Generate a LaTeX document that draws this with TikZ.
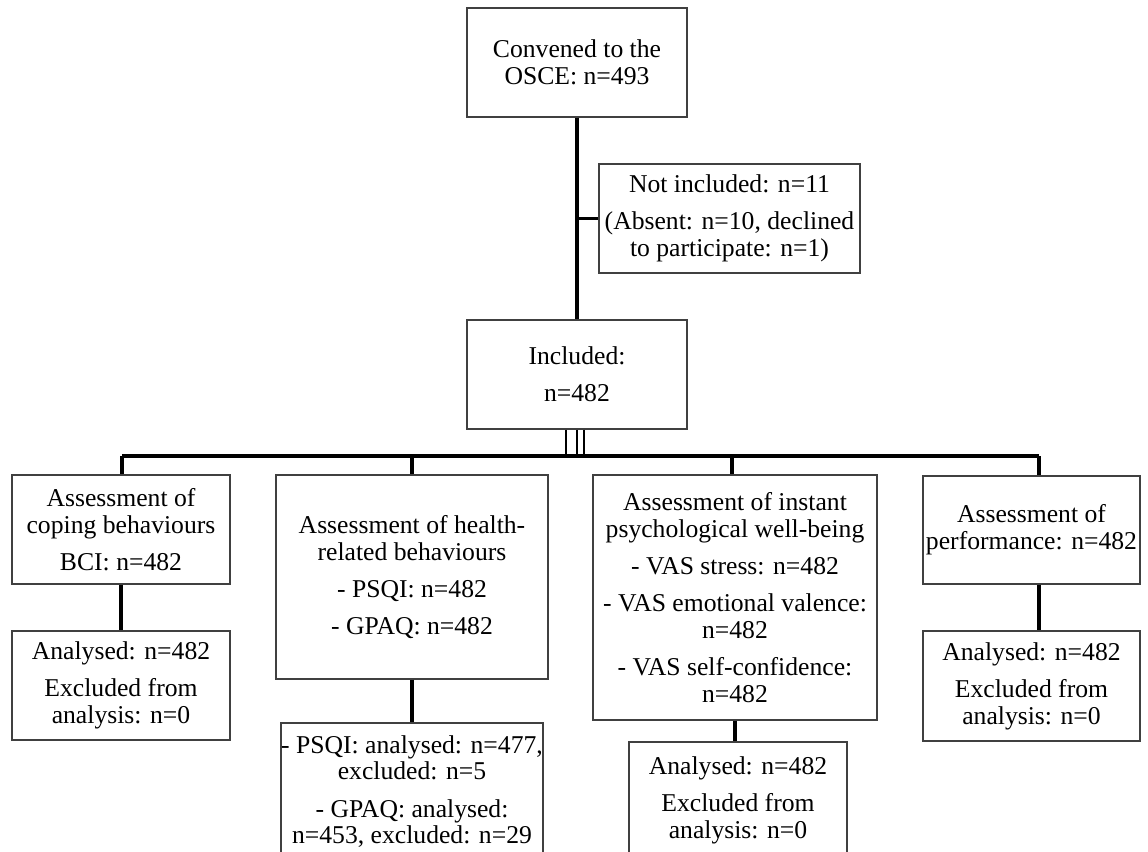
\documentclass[tikz,border=0pt]{standalone}
\usepackage{fontspec}
\setmainfont{Liberation Serif}
\usetikzlibrary{calc}
\begin{document}
\begin{tikzpicture}[x=0.02cm,y=-0.02cm,
  box/.style={draw=black!75, line width=0.7pt, align=center, inner sep=0pt,
    font=\fontsize{14.6}{15.2}\selectfont},
  link/.style={line width=1.9pt},
  tri/.style={line width=1.4pt}]
\useasboundingbox (0,0) rectangle (1148,851);
\clip (0,0) rectangle (1148,851);
\node[box, minimum width=4.4cm, minimum height=2.18cm] (top) at (577,62.5)
  {Convened to the\\OSCE: n=493};
\node[box, minimum width=5.22cm, minimum height=2.18cm] (notinc) at (729.5,218.5)
  {Not included: n=11\\[6pt](Absent: n=10, declined\\to participate: n=1)};
\node[box, minimum width=4.4cm, minimum height=2.18cm] (inc) at (577,374.5)
  {Included:\\[6pt]n=482};
\node[box, minimum width=4.36cm, minimum height=2.18cm] (b1) at (121,529.5)
  {Assessment of\\coping behaviours\\[6pt]BCI: n=482};
\node[box, minimum width=4.36cm, minimum height=2.18cm] (b1b) at (121,685.5)
  {Analysed: n=482\\[6pt]Excluded from\\analysis: n=0};
\node[box, minimum width=5.44cm, minimum height=4.08cm] (b2) at (412,577)
  {Assessment of health-\\related behaviours\\[6pt]- PSQI: n=482\\[6pt]- GPAQ: n=482};
\node[box, minimum width=5.24cm, minimum height=2.74cm] (b2b) at (412,791.5)
  {- PSQI: analysed: n=477,\\excluded: n=5\\[6pt]- GPAQ: analysed:\\n=453, excluded: n=29};
\node[box, minimum width=5.68cm, minimum height=4.9cm] (b3) at (735,597.5)
  {Assessment of instant\\psychological well-being\\[6pt]- VAS stress: n=482\\[6pt]- VAS emotional valence:\\n=482\\[6pt]- VAS self-confidence:\\n=482};
\node[box, minimum width=4.36cm, minimum height=2.32cm] (b3b) at (738,800)
  {Analysed: n=482\\[6pt]Excluded from\\analysis: n=0};
\node[box, minimum width=4.34cm, minimum height=2.16cm] (b4) at (1031.5,530)
  {Assessment of\\performance: n=482};
\node[box, minimum width=4.34cm, minimum height=2.2cm] (b4b) at (1031.5,686)
  {Analysed: n=482\\[6pt]Excluded from\\analysis: n=0};
\coordinate (barL) at (122,456);
\coordinate (barR) at (1039,456);
\draw[link] (top.south) -- (inc.north);
\draw[link] (top.south |- notinc.west) -- (notinc.west);
\coordinate (i1) at ($(inc.south)+(-11,0)$);
\coordinate (i3) at ($(inc.south)+(7,0)$);
\draw[tri] (i1) -- (i1 |- barL);
\draw[tri] (inc.south) -- (inc.south |- barL);
\draw[tri] (i3) -- (i3 |- barL);
\draw[link] (barL) -- (barR);
\draw[link] (barL) -- (b1.north -| barL);
\draw[link] (b2.north |- barL) -- (b2.north);
\draw[link] ($(b3.north |- barL)+(-3,0)$) -- ($(b3.north)+(-3,0)$);
\draw[link] (barR) -- (b4.north -| barR);
\draw[link] (b1.south) -- (b1b.north);
\draw[link] (b2.south) -- (b2b.north);
\draw[link] (b3.south) -- (b3.south |- b3b.north);
\draw[link] (b4.south -| barR) -- (b4b.north -| barR);
\end{tikzpicture}
\end{document}
